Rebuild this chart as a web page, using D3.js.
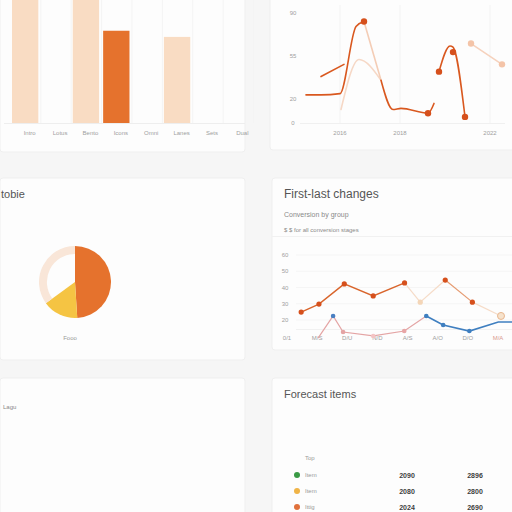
<!DOCTYPE html>
<html><head><meta charset="utf-8">
<script src="https://cdn.jsdelivr.net/npm/d3@7"></script>
<style>
html,body{margin:0;padding:0;background:#f6f6f6;}
svg{display:block;font-family:"Liberation Sans","DejaVu Sans",sans-serif;}
</style></head><body>
<svg id="c" width="512" height="512"></svg>
<script>
// ---------- DATA ----------
const barCats = ["Intro","Lotus","Bento","Icons","Omni","Lanes","Sets","Dual"];
const barVals = [120, 0, 120, 75, 0, 70, 0, 0];
const barTone = ["light","none","light","dark","none","light","none","none"];

const trTickVals = [17.5, 47.5, 92.5];
const trTickLabels = ["2016","2018","2022"];
const trYTicks = [0, 20, 55, 90];
const trMainX = [0.5, 8, 17.5, 25.5, 29.5];
const trMainY = [23, 23, 24, 79, 83];
const trUpperX = [8, 19.5];
const trUpperY = [38, 48];
const trFallX = [29.5, 38];
const trFallY = [83, 35];
const trLowX = [38, 44, 48, 61.5, 64.5];
const trLowY = [35, 11, 12, 8, 16];
const trPeakX = [67, 72.5, 74, 80];
const trPeakY = [42, 63, 62, 5];
const trGhostX = [18, 27, 38];
const trGhostY = [11, 52, 35];
const trTailX = [83, 98.5];
const trTailY = [65, 48];

const pieLabels = ["Orange","Yellow","Rest"];
const pieVals = [49, 16, 35];

const mrXLabels = ["0/1","M/S","D/U","N/D","A/S","A/O","D/O","M/A"];
const mrYTicks = [20, 30, 40, 50, 60];
const mrOrangeX = [0.47, 1.06, 1.9, 2.86, 3.9, 4.42, 5.25, 6.15, 7.1];
const mrOrangeY = [24.9, 29.8, 42.2, 34.8, 42.8, 31, 44.6, 31, 22.5];
const mrPinkX = [1.03, 1.53, 1.86, 2.86, 3.89, 4.62];
const mrPinkY = [8.9, 22.5, 12.6, 10.2, 13.2, 22.5];
const mrBlueX = [4.62, 5.18, 6.05, 7.01, 7.48];
const mrBlueY = [22.5, 16.9, 13.2, 18.8, 18.8];

const tblNames = ["Item","Item","Ittig"];
const tblA = ["2090","2080","2024"];
const tblB = ["2896","2800","2690"];
const tblColors = ["#3a9a45","#f0b447","#e0713c"];

// ---------- DRAW ----------
const svg = d3.select("#c");
const panels = [
  [0,-5,245,157],[270,-5,250,155],
  [0,178,245,182],[272,178,245,172],
  [0,378,245,140],[272,378,245,140]
];
svg.selectAll("rect.panel").data(panels).join("rect")
  .attr("x",d=>d[0]).attr("y",d=>d[1]).attr("width",d=>d[2]).attr("height",d=>d[3])
  .attr("fill","#fdfdfd").attr("stroke","#efefef").attr("rx",3);

const tick = {fill:"#a0a0a0", size:"6px"};

// Top-left bars
{
  const x = d3.scaleBand().domain(barCats).range([12,252]).paddingInner(0.1).paddingOuter(0);
  const y = d3.scaleLinear().domain([0,100]).range([123,0]);
  const g = svg.append("g");
  g.selectAll("line.vg").data(barCats).join("line")
    .attr("x1",d=>x(d)+x.bandwidth()+1.5).attr("x2",d=>x(d)+x.bandwidth()+1.5)
    .attr("y1",0).attr("y2",123).attr("stroke","#f4f4f4");
  g.append("line").attr("x1",4).attr("x2",245).attr("y1",123.5).attr("y2",123.5).attr("stroke","#eeeeee");
  g.selectAll("rect.bar").data(barCats.map((c,i)=>({c,v:barVals[i],t:barTone[i]})).filter(d=>d.v>0)).join("rect")
    .attr("x",d=>x(d.c)).attr("width",x.bandwidth()-1)
    .attr("y",d=>y(d.v)).attr("height",d=>y(0)-y(d.v))
    .attr("fill",d=>d.t==="dark"?"#e5722d":"#f9dcc3");
  g.selectAll("text").data(barCats).join("text")
    .attr("x",d=>x(d)+x.bandwidth()/2+4).attr("y",135).attr("text-anchor","middle")
    .attr("font-size",tick.size).style("fill",tick.fill).text(d=>d);
}

// Top-right lines
{
  const x = d3.scaleLinear().domain([0,100]).range([305,505]);
  const y = d3.scaleLinear().domain([0,90]).range([123,13]);
  const g = svg.append("g");
  g.selectAll("line.vg").data(trTickVals).join("line")
    .attr("x1",d=>x(d)).attr("x2",d=>x(d)).attr("y1",5).attr("y2",123).attr("stroke","#f3f3f3");
  g.append("line").attr("x1",300).attr("x2",505).attr("y1",123.5).attr("y2",123.5).attr("stroke","#f0f0f0");
  g.selectAll("text.yt").data(trYTicks).join("text")
    .attr("x",293).attr("y",d=>y(d)+2).attr("text-anchor","middle")
    .attr("font-size",tick.size).style("fill",tick.fill).text(d=>d);
  g.selectAll("text.xt").data(trTickVals).join("text")
    .attr("x",d=>x(d)).attr("y",135).attr("text-anchor","middle")
    .attr("font-size",tick.size).style("fill",tick.fill).text((d,i)=>trTickLabels[i]);
  const line = d3.line().x(d=>x(d[0])).y(d=>y(d[1])).curve(d3.curveMonotoneX);
  const zip = (a,b)=>a.map((v,i)=>[v,b[i]]);
  const seg = (xs,ys,col,w)=>g.append("path").attr("d",line(zip(xs,ys))).attr("fill","none")
    .attr("stroke",col).attr("stroke-width",w).attr("stroke-linecap","round");
  seg(trGhostX,trGhostY,"#f6d8c6",1.6);
  seg(trFallX,trFallY,"#f4cdb6",1.6);
  seg(trTailX,trTailY,"#f6d2bd",1.6);
  seg(trMainX,trMainY,"#d9581f",1.6);
  seg(trUpperX,trUpperY,"#d9581f",1.6);
  seg(trLowX,trLowY,"#d9581f",1.6);
  seg(trPeakX,trPeakY,"#d9581f",1.6);
  const dots = [[trMainX[4],trMainY[4],"#d6501c"],[trLowX[3],trLowY[3],"#d6501c"],
    [trPeakX[0],trPeakY[0],"#d6501c"],[trPeakX[2],trPeakY[2]-4,"#d6501c"],[trPeakX[3],trPeakY[3],"#d6501c"],
    [trTailX[0],trTailY[0],"#f4c4a8"],[trTailX[1],trTailY[1],"#f4c4a8"]];
  g.selectAll("circle").data(dots).join("circle")
    .attr("cx",d=>x(d[0])).attr("cy",d=>y(d[1])).attr("r",3.2).attr("fill",d=>d[2]);
}

// Middle-left pie
{
  const g = svg.append("g");
  g.append("text").attr("x",1).attr("y",198).attr("font-size","11px").style("fill","#555").text("tobie");
  const pie = d3.pie().sort(null)(pieVals);
  const r = 36;
  const cols = ["#e5722d","#f5c443","#f9e6d8"];
  const inner = [0,0,r*0.78];
  const gp = g.append("g").attr("transform","translate(75,282)");
  gp.selectAll("path").data(pie).join("path")
    .attr("d",(d,i)=>d3.arc().innerRadius(inner[i]).outerRadius(r)(d))
    .attr("fill",(d,i)=>cols[i]);
  g.append("text").attr("x",70).attr("y",340).attr("text-anchor","middle")
    .attr("font-size","6px").style("fill","#999").text("Fooo");
}

// Middle-right lines
{
  const g = svg.append("g");
  g.append("text").attr("x",284).attr("y",198).attr("font-size","12px").style("fill","#555").text("First-last changes");
  g.append("text").attr("x",284).attr("y",217).attr("font-size","7px").style("fill","#8a8a8a").text("Conversion by group");
  g.append("text").attr("x",284).attr("y",232).attr("font-size","6px").style("fill","#8a8a8a").text("$ $ for all conversion stages");
  g.append("line").attr("x1",272).attr("x2",512).attr("y1",236.5).attr("y2",236.5).attr("stroke","#f1f1f1");
  const x = d3.scaleLinear().domain([0,7]).range([287,498]);
  const y = d3.scaleLinear().domain([20,60]).range([320,255]);
  g.selectAll("line.hg").data(mrYTicks).join("line")
    .attr("x1",296).attr("x2",512).attr("y1",d=>y(d)).attr("y2",d=>y(d)).attr("stroke","#f5f5f5");
  g.append("line").attr("x1",296).attr("x2",512).attr("y1",329.5).attr("y2",329.5).attr("stroke","#f1f1f1");
  g.selectAll("text.yt").data(mrYTicks).join("text")
    .attr("x",285).attr("y",d=>y(d)+2).attr("text-anchor","middle")
    .attr("font-size",tick.size).style("fill",tick.fill).text(d=>d);
  g.selectAll("text.xt").data(mrXLabels).join("text")
    .attr("x",(d,i)=>x(i)).attr("y",340).attr("text-anchor","middle")
    .attr("font-size",tick.size).style("fill",(d,i)=>i===7?"#d99a90":tick.fill).text(d=>d);
  const zip = (a,b)=>a.map((v,i)=>[v,b[i]]);
  const line = d3.line().x(d=>x(d[0])).y(d=>y(d[1]));
  const o = zip(mrOrangeX,mrOrangeY);
  g.append("path").attr("d",line(o.slice(0,5))).attr("fill","none").attr("stroke","#d9652c").attr("stroke-width",1.4);
  g.append("path").attr("d",line(o.slice(4,7))).attr("fill","none").attr("stroke","#f6dcc8").attr("stroke-width",1.2);
  g.append("path").attr("d",line(o.slice(6,8))).attr("fill","none").attr("stroke","#e59a70").attr("stroke-width",1.2);
  g.append("path").attr("d",line(o.slice(7,9))).attr("fill","none").attr("stroke","#f6dcc8").attr("stroke-width",1.2);
  const p = zip(mrPinkX,mrPinkY), b = zip(mrBlueX,mrBlueY);
  g.append("path").attr("d",line(p)).attr("fill","none").attr("stroke","#e4a4a4").attr("stroke-width",1.2);
  g.append("path").attr("d",line(b)).attr("fill","none").attr("stroke","#3f7fc0").attr("stroke-width",1.6);
  const oc = ["#d6501c","#d6501c","#d6501c","#d6501c","#d6501c","#f4d6b8","#d6501c","#d6501c","#f6e2cc"];
  g.selectAll("circle.o").data(o).join("circle").attr("cx",d=>x(d[0])).attr("cy",d=>y(d[1]))
    .attr("r",(d,i)=>i===8?3.5:2.6).attr("fill",(d,i)=>oc[i]).attr("stroke",(d,i)=>i===8?"#e8b68e":"none");
  const pd = p.slice(1);
  const pc = ["#4a7fc2","#e4a4a4","#f4c4c4","#e8a6a6","#3f7fc0"];
  g.selectAll("circle.p").data(pd).join("circle").attr("cx",d=>x(d[0])).attr("cy",d=>y(d[1]))
    .attr("r",2.3).attr("fill",(d,i)=>pc[i]);
  g.selectAll("circle.b").data(b.slice(1,3)).join("circle").attr("cx",d=>x(d[0])).attr("cy",d=>y(d[1]))
    .attr("r",2.3).attr("fill","#3f7fc0");
}

// Bottom-left
svg.append("text").attr("x",3).attr("y",409).attr("font-size","6px").style("fill","#888").text("Lagu");

// Bottom-right table
{
  const g = svg.append("g");
  g.append("text").attr("x",284).attr("y",398).attr("font-size","11px").style("fill","#555").text("Forecast items");
  g.append("text").attr("x",305).attr("y",460).attr("font-size","6px").style("fill","#999").text("Top");
  const y = d3.scalePoint().domain(d3.range(tblNames.length)).range([476,508]);
  const rows = g.selectAll("g.row").data(tblNames).join("g").attr("transform",(d,i)=>`translate(0,${y(i)})`);
  rows.append("circle").attr("cx",297).attr("cy",-1).attr("r",3).attr("fill",(d,i)=>tblColors[i]);
  rows.append("text").attr("x",305).attr("y",1).attr("font-size","6px").style("fill","#999").text(d=>d);
  rows.append("text").attr("x",407).attr("y",1.5).attr("text-anchor","middle").attr("font-size","7px")
    .attr("font-weight","bold").style("fill","#3d3d3d").text((d,i)=>tblA[i]);
  rows.append("text").attr("x",475).attr("y",1.5).attr("text-anchor","middle").attr("font-size","7px")
    .attr("font-weight","bold").style("fill","#3d3d3d").text((d,i)=>tblB[i]);
}
</script>
</body></html>
